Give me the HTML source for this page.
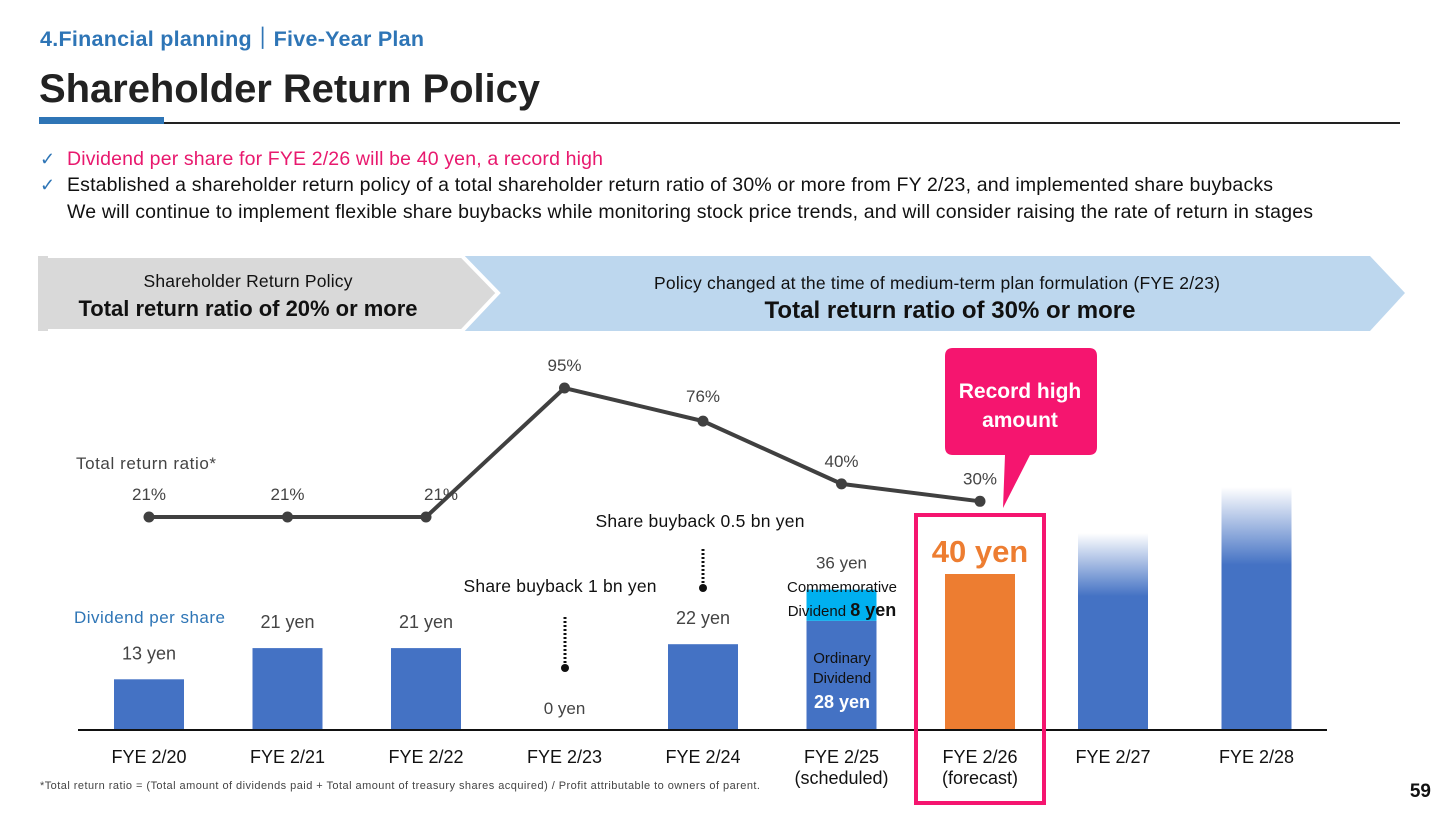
<!DOCTYPE html>
<html><head><meta charset="utf-8">
<style>
html,body{margin:0;padding:0;background:#fff;}
body{width:1440px;height:810px;overflow:hidden;font-family:"Liberation Sans",Arial,sans-serif;}
svg text{font-family:"Liberation Sans",Arial,sans-serif;}
</style></head>
<body>
<svg id="chart" width="1440" height="810" viewBox="0 0 1440 810" xmlns="http://www.w3.org/2000/svg">
<defs>
<linearGradient id="fade" x1="0" y1="0" x2="0" y2="1">
<stop offset="0" stop-color="#4472c4" stop-opacity="0"/>
<stop offset="0.32" stop-color="#4472c4" stop-opacity="1"/>
<stop offset="1" stop-color="#4472c4" stop-opacity="1"/>
</linearGradient>
</defs>
<text x="40" y="46" font-size="21.5" font-weight="bold" fill="#2e75b6" textLength="384">4.Financial planning｜Five-Year Plan</text>
<text x="39" y="102" font-size="40" font-weight="bold" fill="#222" textLength="501">Shareholder Return Policy</text>
<rect x="39" y="117" width="125" height="7" fill="#2e75b6"/>
<rect x="164" y="122" width="1236" height="2" fill="#222"/>
<text x="40" y="165" font-size="18" fill="#2e75b6">✓</text>
<text x="67" y="165" font-size="19.5" fill="#e8196e" textLength="536">Dividend per share for FYE 2/26 will be 40 yen, a record high</text>
<text x="40" y="191" font-size="18" fill="#2e75b6">✓</text>
<text x="67" y="191" font-size="19.5" fill="#111" textLength="1206">Established a shareholder return policy of a total shareholder return ratio of 30% or more from FY 2/23, and implemented share buybacks</text>
<text x="67" y="218" font-size="19.5" fill="#111" textLength="1246">We will continue to implement flexible share buybacks while monitoring stock price trends, and will consider raising the rate of return in stages</text>

<polygon points="455,256 1370,256 1405,293 1370,331 455,331" fill="#bdd7ee"/>
<polygon points="38,256 462,256 498,293 462,331 38,331" fill="#d9d9d9" stroke="#fff" stroke-width="4"/>
<rect x="36" y="252" width="10" height="84" fill="#fff"/>
<rect x="38" y="256" width="10" height="75" fill="#d9d9d9"/>
<text x="248" y="287" font-size="17.5" text-anchor="middle" fill="#111" textLength="209">Shareholder Return Policy</text>
<text x="248" y="316" font-size="22" font-weight="bold" text-anchor="middle" fill="#111" textLength="339">Total return ratio of 20% or more</text>
<text x="937" y="289" font-size="17.5" text-anchor="middle" fill="#111" textLength="566">Policy changed at the time of medium-term plan formulation (FYE 2/23)</text>
<text x="950" y="318" font-size="24" font-weight="bold" text-anchor="middle" fill="#111" textLength="371">Total return ratio of 30% or more</text>

<g id="bars"></g>
<g id="line"></g>
<g id="labels"></g>

<line x1="78" y1="730" x2="1327" y2="730" stroke="#111" stroke-width="2"/>

<text x="76" y="469" font-size="17" fill="#444" textLength="140">Total return ratio*</text>
<text x="74" y="623" font-size="17" fill="#2e75b6" textLength="151">Dividend per share</text>

<line x1="565" y1="617" x2="565" y2="667" stroke="#111" stroke-width="3" stroke-dasharray="2,2"/>
<circle cx="565" cy="668" r="4" fill="#111"/>
<text x="560" y="592" font-size="17.5" text-anchor="middle" fill="#111" textLength="193">Share buyback 1 bn yen</text>
<line x1="703" y1="549" x2="703" y2="587" stroke="#111" stroke-width="3" stroke-dasharray="2,2"/>
<circle cx="703" cy="588" r="4" fill="#111"/>
<text x="700" y="527" font-size="17.5" text-anchor="middle" fill="#111" textLength="209">Share buyback 0.5 bn yen</text>

<text x="842" y="592" font-size="15" text-anchor="middle" fill="#111">Commemorative</text>
<text x="842" y="616" font-size="15" text-anchor="middle" fill="#111">Dividend <tspan font-size="18" font-weight="bold">8 yen</tspan></text>
<text x="842" y="663" font-size="15" text-anchor="middle" fill="#111">Ordinary</text>
<text x="842" y="683" font-size="15" text-anchor="middle" fill="#111">Dividend</text>
<text x="842" y="708" font-size="18" font-weight="bold" text-anchor="middle" fill="#fff">28 yen</text>

<rect x="916" y="515" width="128" height="288" fill="none" stroke="#f5156f" stroke-width="4"/>
<path d="M953,348 H1089 Q1097,348 1097,356 V447 Q1097,455 1089,455 H1030 L1003,508 L1005,455 H953 Q945,455 945,447 V356 Q945,348 953,348 Z" fill="#f5156f"/>
<text x="1020" y="398" font-size="21" font-weight="bold" text-anchor="middle" fill="#fff">Record high</text>
<text x="1020" y="427" font-size="21" font-weight="bold" text-anchor="middle" fill="#fff">amount</text>

<text x="40" y="789" font-size="11" fill="#444" textLength="720">*Total return ratio = (Total amount of dividends paid + Total amount of treasury shares acquired) / Profit attributable to owners of parent.</text>
<text x="1431" y="797" font-size="19" font-weight="bold" text-anchor="end" fill="#111">59</text>
</svg>
<script>
const categories = ["FYE 2/20","FYE 2/21","FYE 2/22","FYE 2/23","FYE 2/24","FYE 2/25","FYE 2/26","FYE 2/27","FYE 2/28"];
const subLabels = ["","","","","","(scheduled)","(forecast)","",""];
const ordinaryDividend = [13,21,21,0,22,28,40,50.5,62.3];
const commemorativeDividend = [0,0,0,0,0,8,0,0,0];
const dividendLabels = ["13 yen","21 yen","21 yen","0 yen","22 yen","36 yen","40 yen","",""];
const returnRatio = [21,21,21,95,76,40,30];
const ratioLabels = ["21%","21%","21%","95%","76%","40%","30%"];

const NS="http://www.w3.org/2000/svg";
function xPos(i){return 149 + i*138.5 - (i===7?5.5:0) + (i===8?-0.5:0);}
function yBar(v){return 730 - v*3.9;}
function yLine(v){return 553.6 - v*1.743;}
function mk(tag,attrs,parent){const e=document.createElementNS(NS,tag);for(const k in attrs)e.setAttribute(k,attrs[k]);parent.appendChild(e);return e;}
const gB=document.getElementById('bars'),gL=document.getElementById('line'),gT=document.getElementById('labels');
categories.forEach((c,i)=>{
  const x=xPos(i), w=70;
  if(ordinaryDividend[i]>0){
    let fill = i===6 ? "#ed7d31" : (i>=7 ? "url(#fade)" : "#4472c4");
    const r=mk('rect',{x:x-w/2,y:yBar(ordinaryDividend[i]),width:w,height:730-yBar(ordinaryDividend[i]),fill:fill},gB);
    
    
  }
  if(commemorativeDividend[i]>0){
    const top=ordinaryDividend[i]+commemorativeDividend[i];
    const r=mk('rect',{x:x-w/2,y:yBar(top),width:w,height:yBar(ordinaryDividend[i])-yBar(top),fill:"#00b0f0"},gB);
    
    
  }
  if(dividendLabels[i]){
    const tot=ordinaryDividend[i]+commemorativeDividend[i];
    let y = i===3 ? 714 : yBar(tot)-20;
    let attrs={x:x,y:y,'text-anchor':'middle','font-size':18,fill:'#444','font-family':'"DejaVu Sans",sans-serif'};
    if(i===5){attrs.y=yBar(tot)-21;attrs['font-size']=17;}
    if(i===3){attrs['font-family']='"Liberation Sans",sans-serif';attrs['font-size']=17;}
    if(i===6){attrs.y=yBar(tot)-12;attrs['font-size']=31;attrs['font-weight']='bold';attrs.fill='#ed7d31';}
    const t=mk('text',attrs,gT);t.textContent=dividendLabels[i];
    
    
  }
  const t=mk('text',{x:x,y:763,'text-anchor':'middle','font-size':18,fill:'#111'},gT);t.textContent=c;
  
  
  if(subLabels[i]){const s=mk('text',{x:x,y:784,'text-anchor':'middle','font-size':18,fill:'#111'},gT);s.textContent=subLabels[i];
    
    }
});
const pts=returnRatio.map((v,i)=>xPos(i)+","+yLine(v)).join(" ");
const pl=mk('polyline',{points:pts,fill:'none',stroke:'#404040','stroke-width':4,'stroke-linejoin':'round'},gL);


returnRatio.forEach((v,i)=>{
  const c=mk('circle',{cx:xPos(i),cy:yLine(v),r:5.5,fill:'#404040'},gL);
  
  
  const t=mk('text',{x:xPos(i)+(i===2?15:0),y:yLine(v)-(i===4?19:17),'text-anchor':'middle','font-size':17,fill:'#444'},gL);
  t.textContent=ratioLabels[i];
  
  
});
</script>
</body></html>
